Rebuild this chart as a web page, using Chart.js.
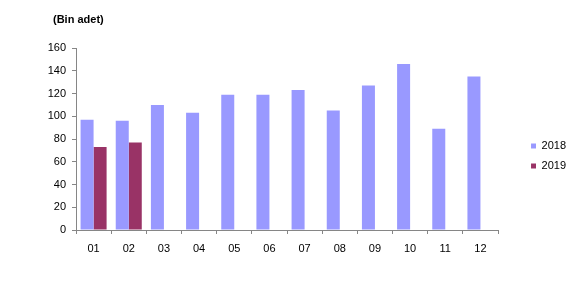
<!DOCTYPE html>
<html>
<head>
<meta charset="utf-8">
<script src="https://cdn.jsdelivr.net/npm/chart.js@4.4.0/dist/chart.umd.min.js"></script>
<style>
  html, body { margin: 0; padding: 0; background: #fff; }
  #wrap { width: 586px; height: 287px; }
</style>
</head>
<body>
<div id="wrap"><canvas id="monthChart" width="586" height="287"></canvas></div>
<script>
// Veriler (Bin adet)
const months = ['01', '02', '03', '04', '05', '06', '07', '08', '09', '10', '11', '12'];
const values2018 = [97, 96, 110, 103, 119, 119, 123, 105, 127, 146, 89, 135];
const values2019 = [73, 77];
const yTicks = [0, 20, 40, 60, 80, 100, 120, 140, 160];
const unitLabel = '(Bin adet)';

Chart.defaults.font.family = "'Liberation Sans', Arial, sans-serif";
Chart.defaults.font.size = 11;
Chart.defaults.color = '#000';

const axisGray = '#868686';

// Baslik: eksenin solunda
const titlePlugin = {
    id: 'unitTitle',
    afterDraw(chart) {
        const ctx = chart.ctx;
        ctx.save();
        ctx.font = "bold 11px 'Liberation Sans', Arial, sans-serif";
        ctx.fillStyle = '#000';
        ctx.textBaseline = 'middle';
        ctx.textAlign = 'left';
        ctx.fillText(unitLabel, chart.chartArea.left - 23, 20);
        ctx.restore();
    }
};

const ctx = document.getElementById('monthChart').getContext('2d');
const monthChart = new Chart(ctx, {
    type: 'bar',
    data: {
        labels: months,
        datasets: [{
            label: '2018',
            data: values2018,
            backgroundColor: '#9999FF',
            categoryPercentage: 0.74,
            barPercentage: 1
        }, {
            label: '2019',
            data: values2019,
            backgroundColor: '#993366',
            categoryPercentage: 0.74,
            barPercentage: 1
        }]
    },
    options: {
        responsive: false,
        animation: false,
        layout: { padding: { top: 48, left: 0, right: 10, bottom: 23 } },
        plugins: {
            legend: {
                position: 'right',
                labels: { boxWidth: 5, boxHeight: 5, padding: 9, font: { size: 11 } }
            },
            tooltip: { enabled: false }
        },
        scales: {
            x: {
                offset: true,
                grid: { display: true, drawOnChartArea: false, offset: true, tickLength: 4, color: axisGray },
                border: { color: axisGray },
                ticks: { padding: 8 },
                afterFit(scale) { scale.height = 34; }
            },
            y: {
                min: 0,
                max: 160,
                afterBuildTicks(scale) { scale.ticks = yTicks.map(v => ({ value: v })); },
                grid: { display: true, drawOnChartArea: false, tickLength: 4, color: axisGray },
                border: { color: axisGray },
                ticks: { padding: 6 },
                afterFit(scale) { scale.width = 76; }
            },
            // legend ile grafik arasindaki bosluk
            legendGap: {
                position: 'right',
                display: true,
                grid: { display: false },
                ticks: { display: false },
                border: { display: false },
                afterFit(scale) { scale.width = 24; }
            }
        }
    },
    plugins: [titlePlugin]
});
</script>
</body>
</html>
